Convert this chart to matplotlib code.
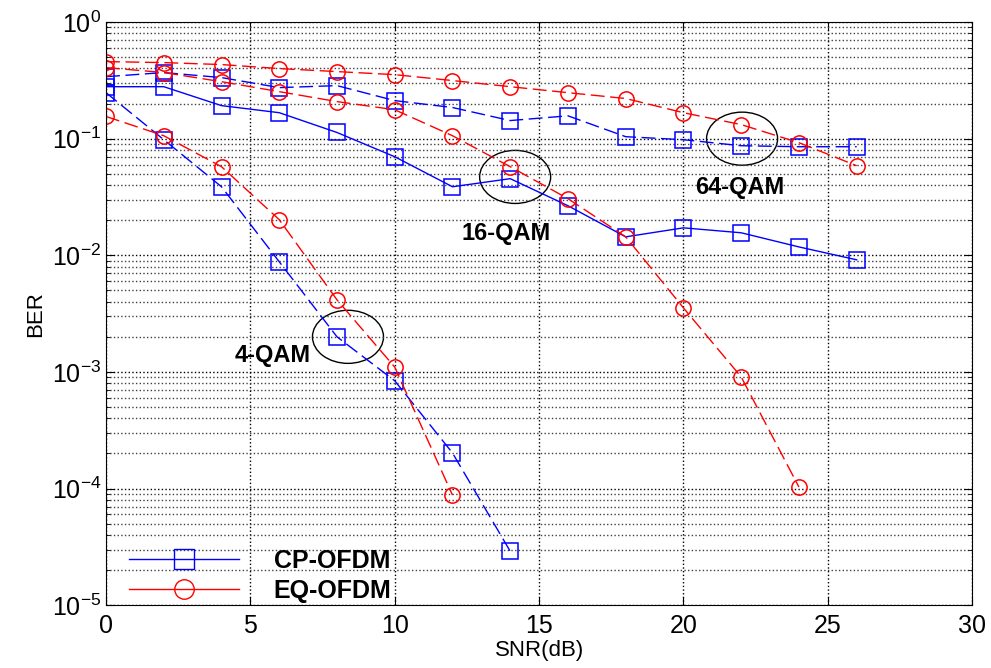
import matplotlib.pyplot as plt
from matplotlib.lines import Line2D
from matplotlib.patches import Ellipse
import numpy as np

plt.rcParams['font.family'] = ['Liberation Sans', 'DejaVu Sans']
plt.rcParams['mathtext.default'] = 'regular'

# SNR points (dB)
snr_4qam_cp = [0, 2, 4, 6, 8, 10, 12, 14]
snr_4qam_eq = [0, 2, 4, 6, 8, 10, 12]
snr_16qam_cp = [0, 2, 4, 6, 8, 10, 12, 14, 16, 18, 20, 22, 24, 26]
snr_16qam_eq = [0, 2, 4, 6, 8, 10, 12, 14, 16, 18, 20, 22, 24]
snr_64qam = [0, 2, 4, 6, 8, 10, 12, 14, 16, 18, 20, 22, 24, 26]

# BER values
ber_4qam_cp = [0.248, 0.098, 0.0387, 0.0088, 0.0020, 0.00084, 0.000202, 2.9e-5]
ber_4qam_eq = [0.155, 0.106, 0.0575, 0.0202, 0.00415, 0.0011, 8.8e-5]
ber_16qam_cp = [0.279, 0.279, 0.192, 0.167, 0.113, 0.070, 0.0387, 0.0454,
                0.0266, 0.0144, 0.0172, 0.0156, 0.0118, 0.00915]
ber_16qam_eq = [0.407, 0.369, 0.308, 0.253, 0.208, 0.177, 0.106, 0.0575,
                0.0306, 0.0144, 0.00354, 0.000906, 0.000103]
ber_64qam_cp = [0.340, 0.369, 0.334, 0.274, 0.285, 0.212, 0.185, 0.143,
                0.157, 0.104, 0.098, 0.087, 0.0853, 0.0853]
ber_64qam_eq = [0.458, 0.449, 0.432, 0.399, 0.376, 0.354, 0.315, 0.279,
                0.248, 0.221, 0.167, 0.132, 0.0924, 0.0586]

# annotations: label, text position, ellipse centre
qam_labels = ['4-QAM', '16-QAM', '64-QAM']
label_pos = [(5.78, 1.37e-3), (13.86, 0.0153), (21.96, 0.038)]
ellipse_pos = [(8.38, 2.0e-3), (14.17, 0.047), (22.03, 0.1)]

blue = '#0000ff'
red = '#ff0000'
dash = (10, 4)

fig = plt.figure(figsize=(9.91, 6.68), dpi=100)
ax = fig.add_axes([0.107, 0.094, 0.874, 0.873])

mk = dict(markersize=11, markerfacecolor='none', markeredgewidth=1.1, linewidth=1)
ax.plot(snr_64qam, ber_64qam_cp, color=blue, marker='s', dashes=dash, **mk)
ax.plot(snr_64qam, ber_64qam_eq, color=red, marker='o', dashes=dash, **mk)
ax.plot(snr_16qam_cp, ber_16qam_cp, color=blue, marker='s', linestyle='-', **mk)
ax.plot(snr_16qam_eq, ber_16qam_eq, color=red, marker='o', dashes=dash, **mk)
ax.plot(snr_4qam_cp, ber_4qam_cp, color=blue, marker='s', dashes=dash, **mk)
ax.plot(snr_4qam_eq, ber_4qam_eq, color=red, marker='o', dashes=dash, **mk)

ax.set_yscale('log')
ax.set_xlim(0, 30)
ax.set_ylim(1e-5, 1)
ax.set_xticks(range(0, 31, 5))

ax.grid(True, which='major', axis='both', color='black', linestyle=':', linewidth=1)
ax.grid(True, which='minor', axis='y', color='0.25', linestyle=':', linewidth=1)
ax.tick_params(which='both', direction='in', top=True, right=True, labelsize=18)
ax.tick_params(which='major', length=6)
ax.tick_params(which='minor', length=3)
ax.tick_params(axis='x', pad=6)

ax.set_xlabel('SNR(dB)', fontsize=16, labelpad=2)
ax.set_ylabel('BER', fontsize=16, labelpad=4)

for (ex, ey) in ellipse_pos:
    fx = ex / 30
    fy = (np.log10(ey) + 5) / 5
    ax.add_patch(Ellipse((fx, fy), 0.082, 0.091, transform=ax.transAxes,
                         fill=False, edgecolor='black', linewidth=1))

for lab, (tx, ty) in zip(qam_labels, label_pos):
    ax.text(tx, ty, lab, fontsize=17, fontweight='bold', ha='center', va='center')

handles = [
    Line2D([], [], color=blue, marker='s', markersize=14, markerfacecolor='none', linewidth=1),
    Line2D([], [], color=red, marker='o', markersize=14, markerfacecolor='none', linewidth=1),
]
ax.legend(handles, ['CP-OFDM', 'EQ-OFDM'], loc='lower left', bbox_to_anchor=(0.0, -0.034),
          frameon=False, handlelength=4.4, handletextpad=1.4, labelspacing=0.22,
          prop={'weight': 'bold', 'size': 18})

fig.savefig('out.png', dpi=100)
